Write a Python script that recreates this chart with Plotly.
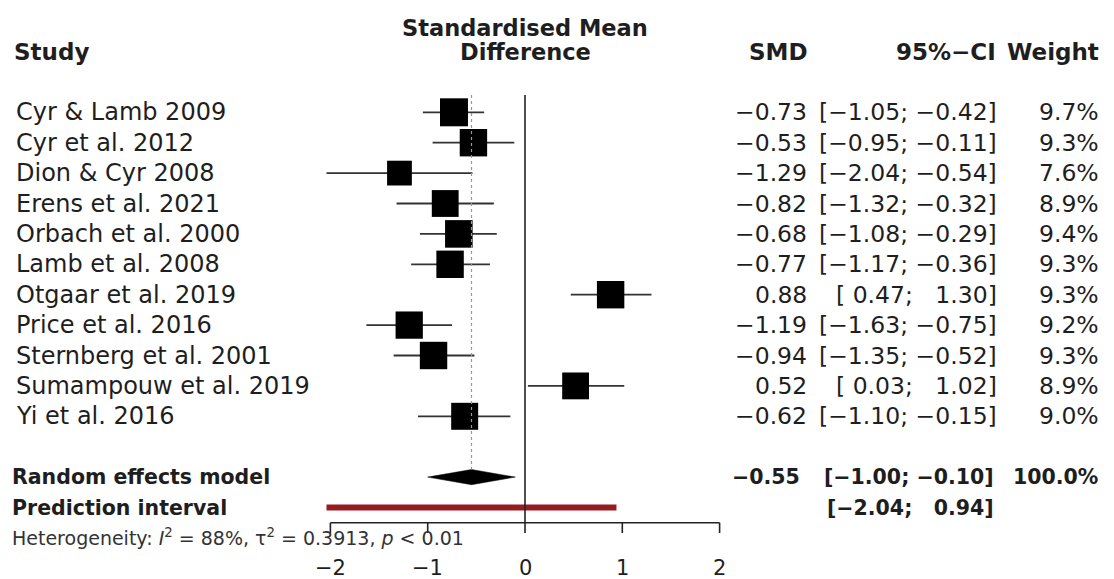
import plotly.graph_objects as go

# ---------------- data ----------------
studies = ["Cyr & Lamb 2009", "Cyr et al. 2012", "Dion & Cyr 2008", "Erens et al. 2021",
           "Orbach et al. 2000", "Lamb et al. 2008", "Otgaar et al. 2019", "Price et al. 2016",
           "Sternberg et al. 2001", "Sumampouw et al. 2019", "Yi et al. 2016"]
smd = [-0.73, -0.53, -1.29, -0.82, -0.68, -0.77, 0.88, -1.19, -0.94, 0.52, -0.62]
ci_lo = [-1.05, -0.95, -2.04, -1.32, -1.08, -1.17, 0.47, -1.63, -1.35, 0.03, -1.10]
ci_hi = [-0.42, -0.11, -0.54, -0.32, -0.29, -0.36, 1.30, -0.75, -0.52, 1.02, -0.15]
weight = [9.7, 9.3, 7.6, 8.9, 9.4, 9.3, 9.3, 9.2, 9.3, 8.9, 9.0]

pooled_est = -0.55
pooled_lo = -1.00
pooled_hi = -0.10
pooled_weight = 100.0
pi_lo = -2.04
pi_hi = 0.94
i2 = 88
tau2 = 0.3913

tick_vals = [-2, -1, 0, 1, 2]
tick_labels = ["\u22122", "\u22121", "0", "1", "2"]

# ---------------- layout geometry ----------------
OFF = 8                      # page body margin
W, H = 1114 - OFF, 579 - OFF
PX0, PXU = 525.0 - OFF, 97.3  # pixel of x=0, pixels per unit
Y0, DY = 112.3 - OFF, 30.4    # pixel of first row, pixels per row
x_range = [-PX0 / PXU, (W - PX0) / PXU]
y_range = [(H - Y0) / DY, -Y0 / DY]


def px(p):
    """screen pixel -> paper fraction"""
    return (p - OFF) / W


rows = list(range(len(studies)))
row_pooled = len(studies) + 1
row_pi = len(studies) + 2
row_axis = row_pi + 0.5

REG = "DejaVu Sans"
TXT = "#1e1e1e"


def fmt_lo(v):
    return ("\u2212" if v < 0 else "\u00a0") + f"{abs(v):.2f}"


def fmt_hi(v):
    return ("\u2212" if v < 0 else "\u2007") + f"{abs(v):.2f}"


def fmt_ci(lo, hi):
    return "[" + fmt_lo(lo) + "; " + fmt_hi(hi) + "]"


def fmt_smd(v):
    return ("\u2212" if v < 0 else "") + f"{abs(v):.2f}"


fig = go.Figure()

# CI lines
xs, ys = [], []
for r, lo, hi in zip(rows, ci_lo, ci_hi):
    xs += [lo, hi, None]
    ys += [r, r, None]
fig.add_trace(go.Scatter(x=xs, y=ys, mode="lines",
                         line=dict(color="#333333", width=1.8), hoverinfo="skip"))

# squares (area proportional to weight)
max_w = max(weight)
sizes = [28 * (w / max_w) ** 0.5 for w in weight]
fig.add_trace(go.Scatter(x=smd, y=rows, mode="markers",
                         marker=dict(symbol="square", size=sizes, color="black",
                                     opacity=1, line=dict(width=0))))

# diamond for pooled estimate
hh = 0.25
fig.add_trace(go.Scatter(x=[pooled_lo, pooled_est, pooled_hi, pooled_est, pooled_lo],
                         y=[row_pooled, row_pooled - hh, row_pooled, row_pooled + hh, row_pooled],
                         mode="lines", fill="toself", fillcolor="black",
                         line=dict(color="black", width=0.5)))

# prediction interval
fig.add_trace(go.Scatter(x=[pi_lo, pi_hi], y=[row_pi, row_pi], mode="lines",
                         line=dict(color="#971c22", width=6)))

shapes = []
# line of no effect
shapes.append(dict(type="line", xref="x", yref="y", x0=0, x1=0, y0=-0.57, y1=row_axis,
                   line=dict(color="#222222", width=1.6)))
# dotted pooled line
shapes.append(dict(type="line", xref="x", yref="y", x0=pooled_est, x1=pooled_est,
                   y0=-0.57, y1=row_pooled - hh,
                   line=dict(color="#999999", width=1.2, dash="dot")))
# x axis
shapes.append(dict(type="line", xref="x", yref="y", x0=tick_vals[0], x1=tick_vals[-1],
                   y0=row_axis, y1=row_axis, line=dict(color="#222222", width=1.6)))
for t in tick_vals:
    shapes.append(dict(type="line", xref="x", yref="y", x0=t, x1=t,
                       y0=row_axis, y1=row_axis + 0.34,
                       line=dict(color="#222222", width=1.6)))

ann = []


def add_text(x, y, text, size, anchor="left", bold=False, xref="paper", family=REG, color=TXT):
    if bold:
        text = "<b>" + text + "</b>"
    ann.append(dict(x=x, y=y, xref=xref, yref="y", text=text, showarrow=False,
                    xanchor=anchor, yanchor="middle",
                    font=dict(family=family, size=size, color=color)))


# headers
add_text(px(12), -2.0, "Study", 23, bold=True)
add_text(0, -2.78, "Standardised Mean", 22.5, anchor="center", bold=True, xref="x")
add_text(0, -2.0, "Difference", 22.5, anchor="center", bold=True, xref="x")
add_text(px(810), -2.0, "SMD", 23, anchor="right", bold=True)
add_text(px(998), -2.0, "95%\u2212CI", 23, anchor="right", bold=True)
add_text(px(1101), -2.0, "Weight", 23, anchor="right", bold=True)

# study rows
for r, s, e, lo, hi, w in zip(rows, studies, smd, ci_lo, ci_hi, weight):
    add_text(px(14), r, s, 24)
    add_text(px(809), r, fmt_smd(e), 23.5, anchor="right")
    add_text(px(999), r, fmt_ci(lo, hi), 23.5, anchor="right")
    add_text(px(1101), r, f"{w:.1f}%", 23.5, anchor="right")

# summary rows
add_text(px(10), row_pooled, "Random effects model", 20.5, bold=True)
add_text(px(10), row_pi, "Prediction interval", 20.5, bold=True)
add_text(px(802), row_pooled, fmt_smd(pooled_est), 20.5, anchor="right", bold=True)
add_text(px(996), row_pooled, fmt_ci(pooled_lo, pooled_hi), 20.5, anchor="right", bold=True)
add_text(px(1100), row_pooled, f"{pooled_weight:.1f}%", 20.5, anchor="right", bold=True)
add_text(px(996), row_pi, fmt_ci(pi_lo, pi_hi), 20.5, anchor="right", bold=True)

# heterogeneity
add_text(px(10), row_pi + 0.97,
         f"Heterogeneity: <i>I</i><sup>2</sup> = {i2}%, \u03c4<sup>2</sup> = {tau2:.4f}, "
         f"<i>p</i> &lt; 0.01", 19, color="#333333")

# tick labels
for t, lab in zip(tick_vals, tick_labels):
    add_text(t, row_axis + 1.5, lab, 21, anchor="center", xref="x")

fig.update_layout(
    width=W, height=H, margin=dict(l=0, r=0, t=0, b=0),
    paper_bgcolor="white", plot_bgcolor="white", showlegend=False,
    xaxis=dict(range=x_range, visible=False, domain=[0, 1]),
    yaxis=dict(range=y_range, visible=False, domain=[0, 1]),
    shapes=shapes, annotations=ann,
)

fig.write_html("out.html")
